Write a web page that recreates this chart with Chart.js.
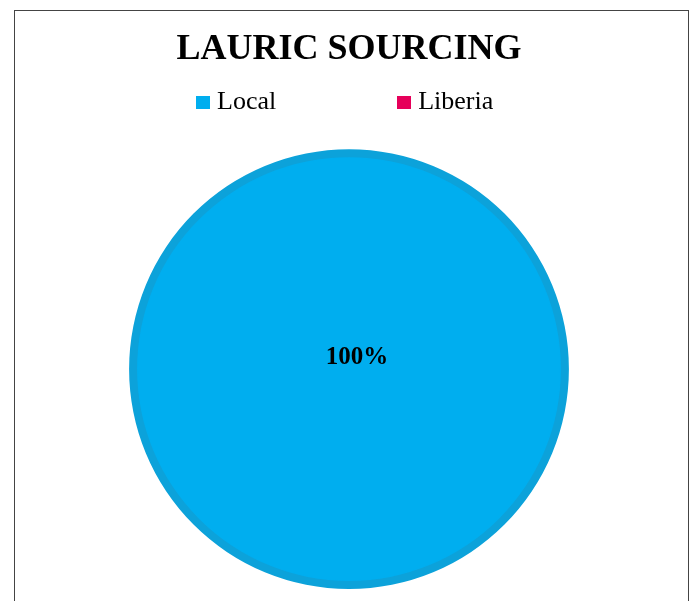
<!DOCTYPE html>
<html>
<head>
<meta charset="utf-8">
<script src="https://cdn.jsdelivr.net/npm/chart.js@4"></script>
<style>
  html, body { margin: 0; padding: 0; background: #fff; overflow: hidden; }
  #wrap { position: relative; width: 696px; height: 601px; }
  #frame { position: absolute; left: 14px; top: 10px; width: 675px; height: 700px; border: 1px solid #444; box-sizing: border-box; }
  #chartBox { position: absolute; left: 0; top: 0; width: 696px; height: 601px; }
  #legend { position: absolute; left: 196px; top: 88px; display: flex; gap: 121px;
            font-family: "Liberation Serif", "Times New Roman", serif; font-size: 26px; line-height: 26px; color: #000; }
  #legend .box { display: inline-block; width: 14px; height: 13px; margin-right: 7px; }
</style>
</head>
<body>
<div id="wrap">
  <div id="frame"></div>
  <div id="chartBox"><canvas id="c1"></canvas></div>
  <div id="legend"></div>
</div>
<script>
// datos del grafico
const categories = ['Local', 'Liberia']
const shares = [100, 0]
const fillColors = ['#00AEEF', '#E6005A']
const ringColors = ['#0CA2DA', '#C8004E']

// leyenda en html
const legendDiv = document.getElementById('legend')
categories.forEach((name, i) => {
    const item = document.createElement('span')
    item.innerHTML = '<span class="box" style="background:' + fillColors[i] + '"></span>' + name
    legendDiv.appendChild(item)
})

// etiqueta de porcentaje sobre la tarta
const pctLabels = {
    id: 'pctLabels',
    afterDatasetsDraw(chart) {
        const meta = chart.getDatasetMeta(1)
        const data = chart.data.datasets[1].data
        const total = data.reduce((a, b) => a + b, 0)
        const ctx = chart.ctx
        ctx.save()
        ctx.font = 'bold 25px "Liberation Serif", "Times New Roman", serif'
        ctx.fillStyle = '#000'
        ctx.textAlign = 'center'
        ctx.textBaseline = 'middle'
        meta.data.forEach((arc, i) => {
            if (!data[i]) return
            const pct = Math.round(data[i] / total * 100) + '%'
            if (data[i] === total) {
                ctx.fillText(pct, arc.x + 8, arc.y - 12)
            } else {
                const p = arc.tooltipPosition()
                ctx.fillText(pct, p.x, p.y)
            }
        })
        ctx.restore()
    }
}

new Chart('c1', {
    type: 'pie',
    data: {
        labels: categories,
        datasets: [
            { data: shares, backgroundColor: ringColors, borderWidth: 0, weight: 8 },
            { data: shares, backgroundColor: fillColors, borderColor: fillColors, borderWidth: 2, weight: 212 }
        ]
    },
    options: {
        responsive: true,
        maintainAspectRatio: false,
        animation: false,
        layout: { padding: { left: 129, right: 127, top: 0, bottom: 12 } },
        plugins: {
            legend: { display: false },
            tooltip: { enabled: false },
            title: {
                display: true,
                text: 'LAURIC SOURCING',
                color: '#000',
                font: { family: '"Liberation Serif", "Times New Roman", serif', size: 36, weight: 'bold', lineHeight: 1.2 },
                padding: { top: 28, bottom: 78 }
            }
        }
    },
    plugins: [pctLabels]
})
</script>
</body>
</html>
